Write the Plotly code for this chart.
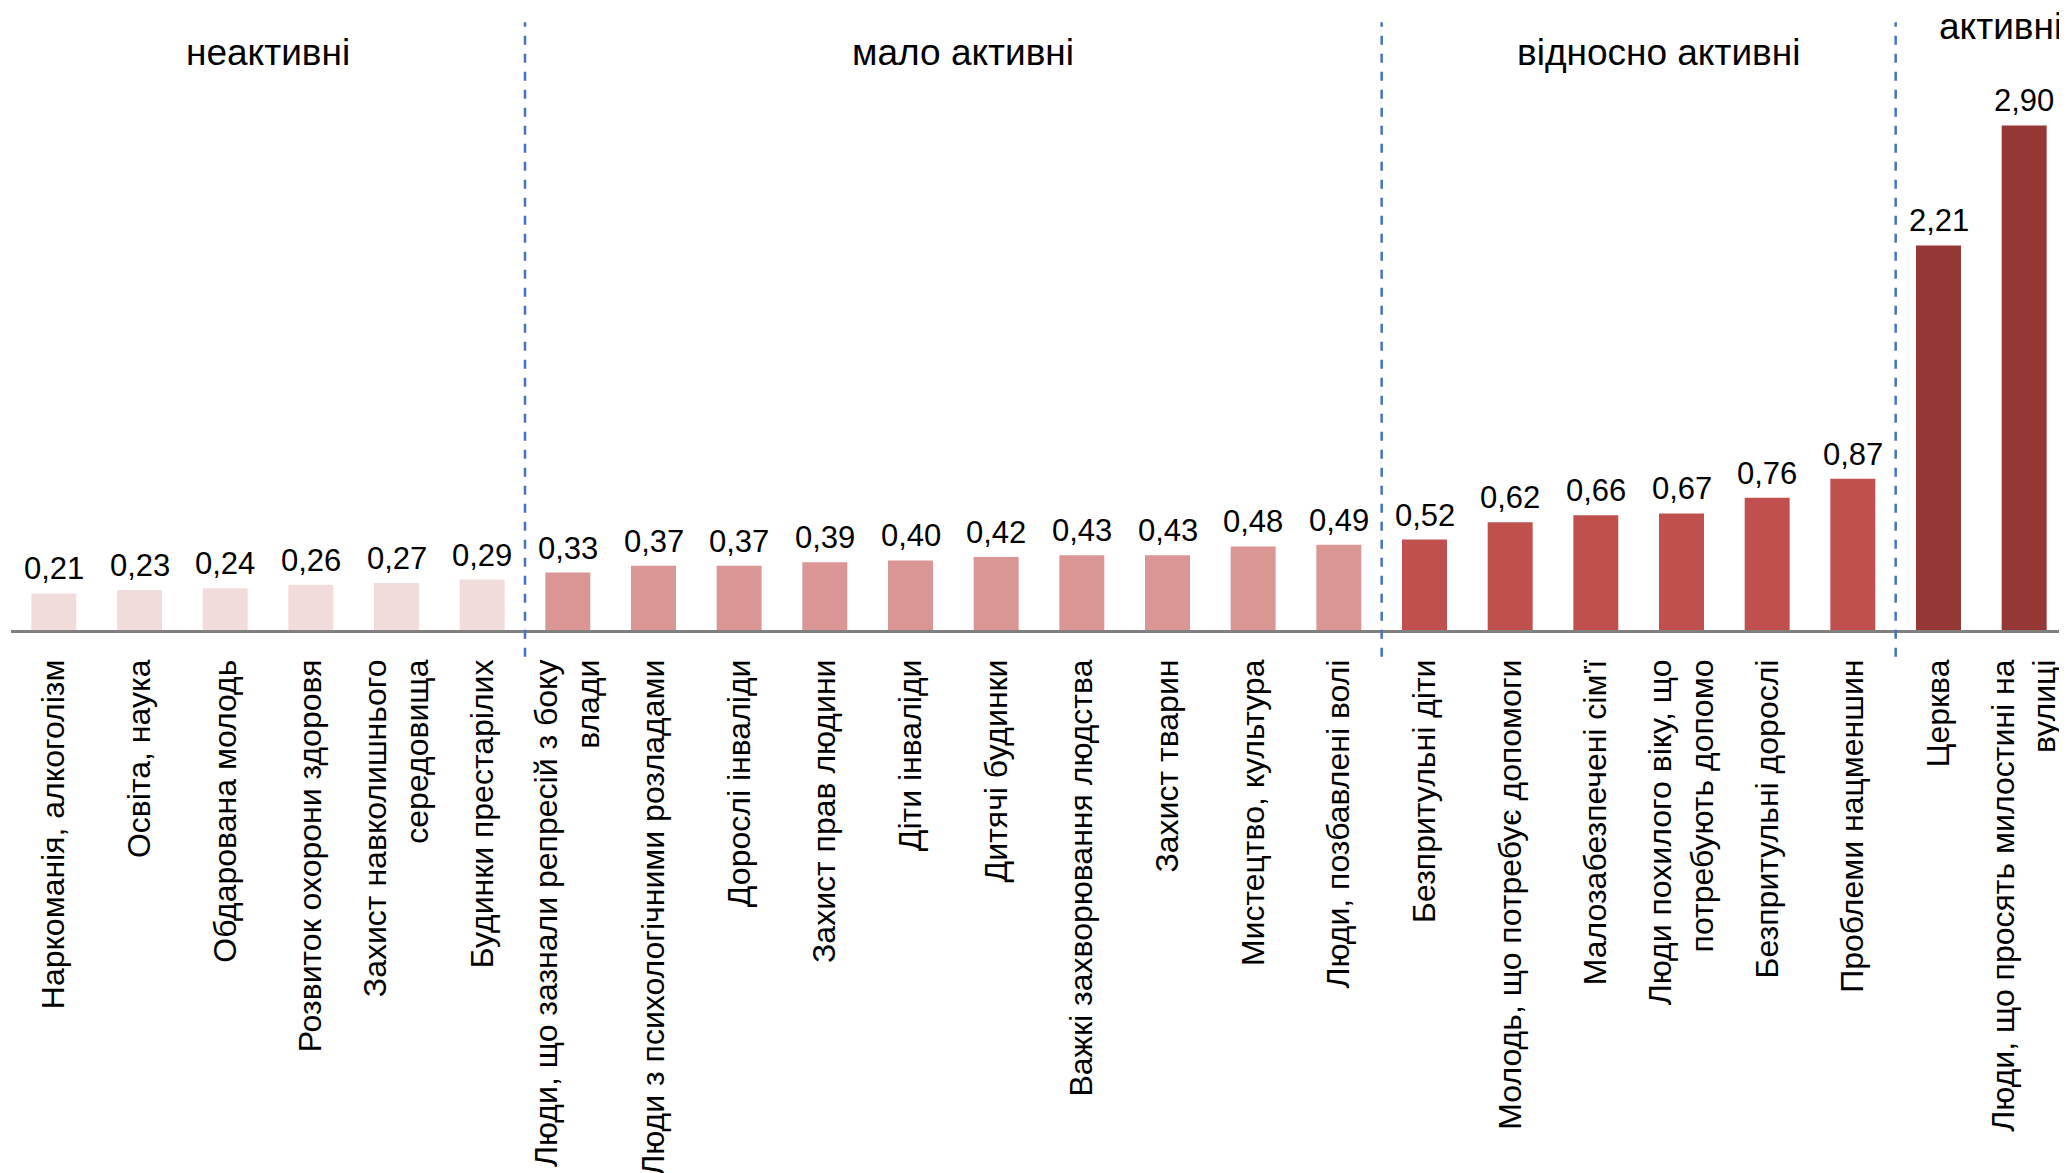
import plotly.graph_objects as go

categories = [
    "Наркоманія, алкоголізм",
    "Освіта, наука",
    "Обдарована молодь",
    "Розвиток охорони здоровя",
    "Захист навколишнього<br>середовища",
    "Будинки престарілих",
    "Люди, що зазнали репресій з боку<br>влади",
    "Люди з психологічними розладами",
    "Дорослі інваліди",
    "Захист прав людини",
    "Діти інваліди",
    "Дитячі будинки",
    "Важкі захворювання людства",
    "Захист тварин",
    "Мистецтво, культура",
    "Люди, позбавлені волі",
    "Безпритульні діти",
    "Молодь, що потребує допомоги",
    "Малозабезпечені сім'ї",
    "Люди похилого віку, що<br>потребують допомо",
    "Безпритульні дорослі",
    "Проблеми нацменшин",
    "Церква",
    "Люди, що просять милостині на<br>вулиці",
]
values = [0.21, 0.23, 0.24, 0.26, 0.27, 0.29,
          0.33, 0.37, 0.37, 0.39, 0.40, 0.42, 0.43, 0.43, 0.48, 0.49,
          0.52, 0.62, 0.66, 0.67, 0.76, 0.87,
          2.21, 2.90]
group_of = [0]*6 + [1]*10 + [2]*6 + [3]*2
group_names = ["неактивні", "мало активні", "відносно активні", "активні"]
group_colors = ["#F2DCDB", "#D99694", "#C0504D", "#953735"]

FONT = "Liberation Sans, Arial, sans-serif"

x_pos = list(range(len(categories)))
fig = go.Figure()
fig.add_trace(go.Bar(
    x=x_pos, y=values,
    marker=dict(color=[group_colors[g] for g in group_of], line=dict(width=0)),
    hoverinfo="skip",
))

# value labels above bars
for xi, v in zip(x_pos, values):
    fig.add_annotation(x=xi, y=v, xref="x", yref="y", text=f"{v:.2f}".replace(".", ","),
                       showarrow=False, yanchor="bottom", xanchor="center", yshift=5,
                       font=dict(family=FONT, size=31, color="black"))

# group separators (between groups)
bounds = [i - 0.5 for i in range(1, len(group_of)) if group_of[i] != group_of[i-1]]
for b in bounds:
    fig.add_shape(type="line", xref="x", yref="paper", x0=b, x1=b, y0=-0.043, y1=0.977,
                  line=dict(color="#4472C4", width=2.5, dash="dash"))

# group titles
label_pos = [(2.5, 0.928, "x", "center"), (10.61, 0.928, "x", "center"),
             (18.73, 0.928, "x", "center"), (0.9985, 0.971, "paper", "right")]
for name, (gx, gy, xr, xa) in zip(group_names, label_pos):
    fig.add_annotation(x=gx, y=gy, xref=xr, yref="paper", text=name, showarrow=False,
                       font=dict(family=FONT, size=37, color="black"),
                       xanchor=xa, yanchor="middle")

fig.update_layout(
    width=2059, height=1165,
    margin=dict(l=3, r=0, t=0, b=543),
    paper_bgcolor="white", plot_bgcolor="white",
    showlegend=False,
    bargap=0.475,
    xaxis=dict(range=[-0.5, 23.5], tickmode="array", tickvals=x_pos, ticktext=categories,
               tickangle=-90, showline=True, linecolor="#808080", linewidth=2.5,
               showgrid=False, zeroline=False, ticks="", ticklabelstandoff=14,
               automargin=False,
               tickfont=dict(family=FONT, size=32, color="black")),
    yaxis=dict(range=[0, 3.575], visible=False, showgrid=False, zeroline=False,
               automargin=False),
)

fig.write_html("out.html")
